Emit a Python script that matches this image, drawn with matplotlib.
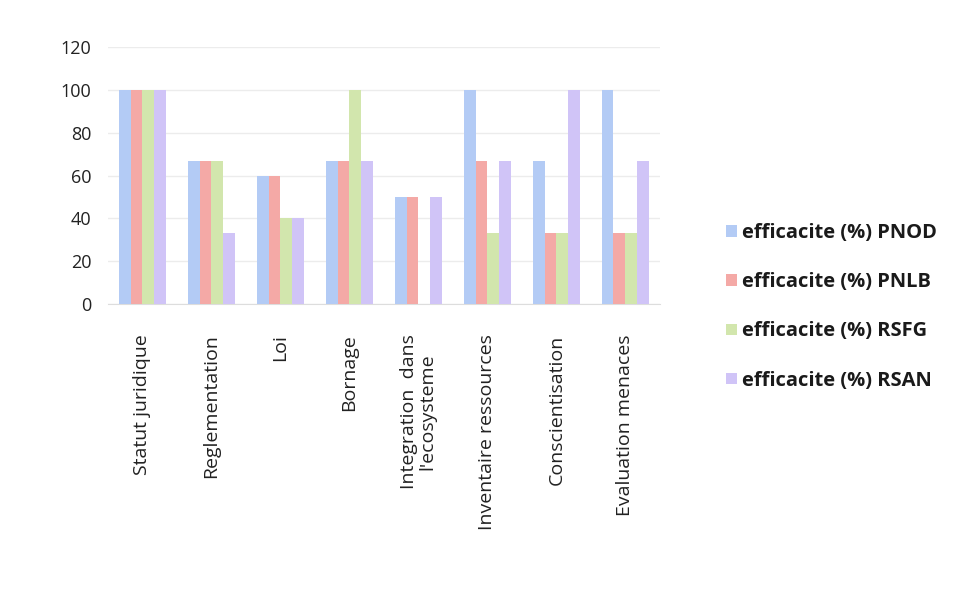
import matplotlib.pyplot as plt
import numpy as np

plt.rcParams['font.family'] = ['Open Sans', 'DejaVu Sans']

categories = ["Statut juridique", "Reglementation", "Loi", "Bornage",
              "Integration  dans\nl'ecosysteme", "Inventaire ressources",
              "Conscientisation", "Evaluation menaces"]
series_names = ["efficacite (%) PNOD", "efficacite (%) PNLB",
                "efficacite (%) RSFG", "efficacite (%) RSAN"]
pnod = [100, 67, 60, 67, 50, 100, 67, 100]
pnlb = [100, 67, 60, 67, 50, 67, 33, 33]
rsfg = [100, 67, 40, 100, 0, 33, 33, 33]
rsan = [100, 33, 40, 67, 50, 67, 100, 67]
colors = ["#b3cbf5", "#f4a9a6", "#d2e6ad", "#d0c4f7"]

fig = plt.figure(figsize=(9.73, 5.9), dpi=100)
ax = fig.add_axes([0.111, 0.485, 0.567, 0.435])

x = np.arange(len(categories))
w = 0.17
for i, (vals, name, c) in enumerate(zip([pnod, pnlb, rsfg, rsan], series_names, colors)):
    ax.bar(x + (i - 1.5) * w, vals, w, color=c, label=name, zorder=3)

ax.set_ylim(0, 120)
ax.set_yticks(range(0, 121, 20))
ax.set_xlim(-0.5, len(categories) - 0.5)
ax.set_xticks(x)
ax.set_xticklabels(categories, rotation=90, fontsize=14, color="#222222",
                   linespacing=1.0)
ax.tick_params(axis='y', labelsize=13, colors="#222222", length=0, pad=12)
ax.tick_params(axis='x', length=0, pad=22)
ax.grid(axis='y', color="#ececec", lw=1, zorder=0)
for s in ["top", "right", "left"]:
    ax.spines[s].set_visible(False)
ax.spines["bottom"].set_color("#dddddd")

leg = fig.legend(loc="center left", bbox_to_anchor=(0.728, 0.48), frameon=False,
                 fontsize=14.5, labelspacing=1.45, handlelength=0.5, handleheight=0.5,
                 handletextpad=0.25)
for t in leg.get_texts():
    t.set_fontweight("bold")
    t.set_color("#1a1a1a")

fig.savefig("out.png", dpi=100)
